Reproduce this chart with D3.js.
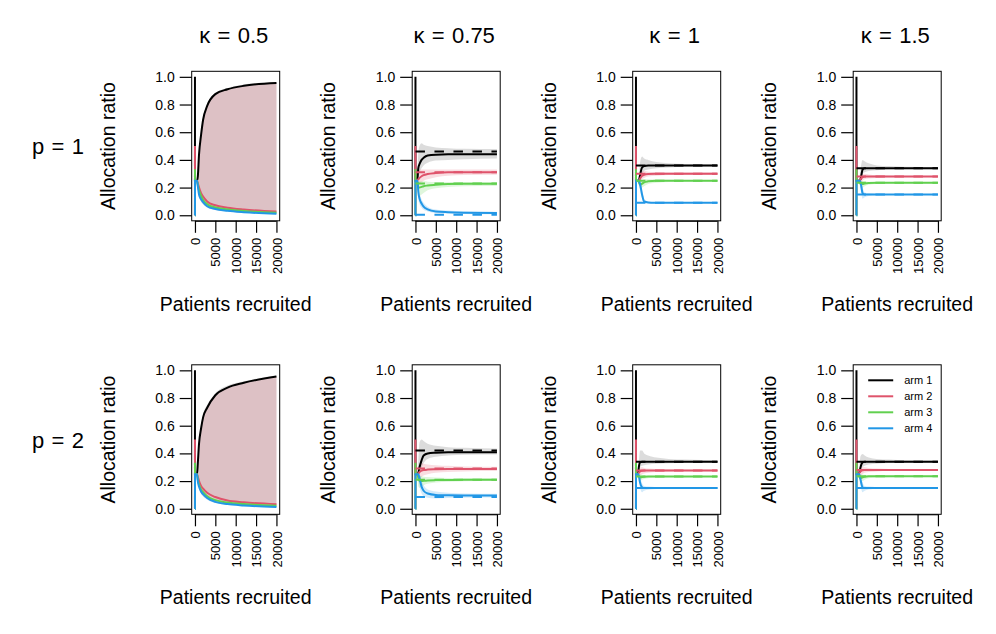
<!DOCTYPE html>
<html>
<head>
<meta charset="utf-8">
<script src="https://cdn.jsdelivr.net/npm/d3@7"></script>
<style>
  body { margin: 0; background: #fff; }
  text { font-family: "Liberation Sans", Arial, sans-serif; fill: #000; }
</style>
</head>
<body>
<div id="chart"></div>
<script>
var patients = [1, 2, 3, 4, 500, 700, 1000, 1500, 2000, 3000, 5000, 8000, 12000, 20000]
var band_patients = [500, 700, 1000, 1500, 2000, 3000, 5000, 8000, 12000, 20000]

var kappa_labels = ["0.5", "0.75", "1", "1.5"]
var p_labels = ["1", "2"]
var arm_names = ["arm 1", "arm 2", "arm 3", "arm 4"]
var arm_colors = ["#000000", "#DF536B", "#61D04F", "#2297E6"]
var band_colors = ["rgba(128,128,128,0.28)", "rgba(223,83,107,0.2)", "rgba(97,208,79,0.2)", "rgba(34,151,230,0.2)"]
var x_ticks = [0, 5000, 10000, 15000, 20000]
var y_ticks = [0, 0.2, 0.4, 0.6, 0.8, 1.0]

// p = 1, kappa = 0.5
var p1_k05_lines = [
  [1, .5, .333, .25, .25, .28, .44, .58, .69, .79, .875, .91, .935, .955],
  [0, .5, .333, .25, .25, .23, .20, .16, .135, .10, .072, .055, .042, .027],
  [0, 0, .333, .25, .25, .22, .18, .14, .11, .08, .056, .042, .031, .018],
  [0, 0, 0, .25, .25, .21, .15, .115, .095, .065, .045, .032, .022, .011]
]
var p1_k05_lo = [
  [.25, .2, .14, .1, .08, .06, .04, .03, .022, .014],
  [.25, .22, .18, .14, .115, .085, .06, .046, .035, .022],
  [.25, .2, .15, .11, .09, .065, .045, .034, .025, .015],
  [.25, .19, .13, .1, .08, .055, .038, .027, .018, .008]
]
var p1_k05_hi = [
  [.25, .33, .47, .61, .71, .8, .885, .92, .945, .963],
  [.25, .3, .45, .59, .7, .79, .878, .913, .938, .958],
  [.25, .23, .2, .16, .13, .095, .066, .05, .038, .025],
  [.25, .22, .17, .13, .105, .075, .052, .038, .027, .015]
]

// p = 1, kappa = 0.75
var p1_k075_lines = [
  [1, .5, .333, .25, .27, .34, .37, .40, .415, .432, .438, .44, .44, .44],
  [0, .5, .333, .25, .255, .26, .27, .282, .29, .298, .305, .31, .31, .31],
  [0, 0, .333, .25, .24, .2, .2, .205, .21, .215, .22, .225, .227, .227],
  [0, 0, 0, .25, .25, .17, .12, .085, .063, .042, .027, .022, .019, .017]
]
var p1_k075_lo = [
  [.25, .28, .31, .34, .36, .38, .395, .40, .405, .41],
  [.25, .23, .23, .24, .25, .26, .275, .285, .29, .292],
  [.24, .14, .14, .15, .16, .18, .195, .205, .21, .212],
  [.24, .12, .08, .055, .04, .028, .016, .012, .01, .008]
]
var p1_k075_hi = [
  [.27, .45, .5, .52, .51, .5, .49, .485, .48, .478],
  [.26, .31, .33, .33, .33, .33, .33, .33, .33, .33],
  [.25, .24, .245, .245, .245, .243, .24, .24, .24, .24],
  [.25, .22, .16, .115, .09, .062, .042, .034, .029, .025]
]
var p1_k075_target = [.46, .31, .23, .003]

// p = 1, kappa = 1
var p1_k1_lines = [
  [1, .5, .333, .25, .25, .25, .29, .345, .355, .36, .36, .36, .36, .36],
  [0, .5, .333, .25, .25, .25, .265, .285, .293, .298, .30, .30, .30, .30],
  [0, 0, .333, .25, .25, .24, .22, .228, .238, .245, .25, .25, .25, .25],
  [0, 0, 0, .25, .25, .25, .225, .15, .10, .093, .091, .09, .09, .09]
]
var p1_k1_lo = [
  [.25, .24, .26, .3, .32, .33, .34, .345, .35, .35],
  [.25, .24, .24, .26, .27, .28, .285, .29, .29, .29],
  [.25, .22, .19, .2, .21, .225, .235, .24, .242, .243],
  [.25, .24, .18, .12, .09, .085, .085, .086, .087, .088]
]
var p1_k1_hi = [
  [.25, .27, .38, .425, .41, .40, .385, .375, .37, .368],
  [.25, .26, .3, .32, .32, .315, .312, .31, .31, .31],
  [.25, .25, .25, .255, .26, .26, .258, .256, .255, .255],
  [.25, .25, .25, .18, .12, .1, .095, .093, .092, .092]
]
var p1_k1_target = [.36, .30, .25, .09]

// p = 1, kappa = 1.5
var p1_k15_lines = [
  [1, .5, .333, .25, .25, .25, .26, .33, .34, .34, .34, .34, .34, .34],
  [0, .5, .333, .25, .25, .25, .26, .275, .28, .28, .28, .28, .28, .28],
  [0, 0, .333, .25, .25, .25, .225, .225, .23, .233, .234, .234, .234, .234],
  [0, 0, 0, .25, .25, .25, .24, .16, .15, .15, .15, .15, .15, .15]
]
var p1_k15_lo = [
  [.25, .25, .25, .3, .31, .32, .325, .33, .332, .333],
  [.25, .25, .24, .25, .26, .265, .27, .272, .274, .275],
  [.25, .24, .2, .2, .21, .22, .225, .228, .229, .23],
  [.25, .25, .2, .12, .13, .14, .145, .147, .148, .148]
]
var p1_k15_hi = [
  [.25, .26, .33, .40, .39, .375, .36, .355, .35, .348],
  [.25, .25, .28, .3, .3, .295, .29, .288, .286, .285],
  [.25, .25, .25, .245, .245, .242, .24, .24, .238, .238],
  [.25, .25, .25, .2, .165, .16, .156, .154, .153, .152]
]
var p1_k15_target = [.34, .28, .234, .15]

// p = 2, kappa = 0.5
var p2_k05_lines = [
  [1, .5, .333, .25, .25, .33, .47, .58, .66, .73, .82, .875, .91, .955],
  [0, .5, .333, .25, .25, .23, .2, .165, .145, .115, .085, .06, .047, .033],
  [0, 0, .333, .25, .25, .21, .175, .14, .12, .09, .062, .045, .034, .022],
  [0, 0, 0, .25, .25, .2, .16, .125, .105, .078, .05, .034, .024, .013]
]
var p2_k05_lo = [
  [.25, .2, .15, .11, .09, .07, .045, .032, .024, .016],
  [.25, .22, .18, .145, .125, .1, .072, .052, .04, .028],
  [.25, .2, .16, .12, .1, .075, .052, .037, .028, .017],
  [.25, .19, .145, .11, .09, .066, .042, .028, .019, .009]
]
var p2_k05_hi = [
  [.25, .36, .5, .61, .69, .75, .835, .89, .922, .962],
  [.25, .34, .48, .59, .67, .74, .825, .88, .915, .957],
  [.25, .22, .19, .155, .135, .1, .07, .052, .04, .027],
  [.25, .21, .175, .14, .12, .09, .058, .04, .029, .017]
]

// p = 2, kappa = 0.75
var p2_k075_lines = [
  [1, .5, .333, .25, .25, .26, .30, .35, .385, .40, .405, .408, .408, .408],
  [0, .5, .333, .25, .25, .255, .265, .275, .28, .283, .285, .287, .288, .288],
  [0, 0, .333, .25, .25, .22, .2, .2, .202, .205, .207, .208, .209, .209],
  [0, 0, 0, .25, .25, .25, .22, .16, .13, .11, .1, .097, .096, .096]
]
var p2_k075_lo = [
  [.25, .22, .26, .3, .33, .36, .375, .385, .39, .392],
  [.25, .2, .21, .23, .24, .25, .26, .265, .27, .272],
  [.25, .16, .15, .16, .17, .18, .19, .195, .198, .2],
  [.25, .22, .16, .11, .09, .08, .075, .078, .08, .082]
]
var p2_k075_hi = [
  [.25, .35, .48, .5, .49, .47, .455, .445, .44, .435],
  [.25, .3, .33, .33, .325, .32, .315, .31, .305, .303],
  [.25, .25, .24, .235, .232, .23, .225, .222, .22, .22],
  [.25, .25, .25, .2, .17, .14, .125, .115, .11, .108]
]
var p2_k075_target = [.42, .29, .21, .085]

// p = 2, kappa = 1
var p2_k1_lines = [
  [1, .5, .333, .25, .25, .3, .335, .34, .34, .34, .34, .34, .34, .34],
  [0, .5, .333, .25, .25, .26, .27, .275, .277, .277, .277, .277, .277, .277],
  [0, 0, .333, .25, .25, .23, .225, .23, .232, .233, .233, .233, .233, .233],
  [0, 0, 0, .25, .25, .24, .19, .155, .15, .15, .15, .15, .15, .15]
]
var p2_k1_lo = [
  [.25, .26, .3, .31, .315, .32, .325, .328, .33, .332],
  [.25, .23, .24, .25, .255, .26, .265, .268, .27, .27],
  [.25, .2, .2, .21, .215, .22, .225, .227, .228, .229],
  [.25, .22, .15, .12, .13, .138, .142, .145, .146, .147]
]
var p2_k1_hi = [
  [.25, .33, .42, .42, .4, .385, .37, .36, .355, .35],
  [.25, .28, .3, .3, .295, .29, .287, .285, .284, .283],
  [.25, .25, .25, .245, .243, .24, .239, .238, .237, .237],
  [.25, .25, .23, .185, .165, .16, .156, .154, .153, .152]
]
var p2_k1_target = [.34, .277, .233, .15]

// p = 2, kappa = 1.5
var p2_k15_lines = [
  [1, .5, .333, .25, .25, .26, .3, .335, .34, .34, .34, .34, .34, .34],
  [0, .5, .333, .25, .25, .26, .27, .278, .28, .28, .28, .28, .28, .28],
  [0, 0, .333, .25, .25, .23, .22, .228, .232, .234, .235, .235, .235, .235],
  [0, 0, 0, .25, .25, .25, .21, .155, .15, .15, .15, .15, .15, .15]
]
var p2_k15_lo = [
  [.25, .25, .28, .3, .31, .32, .325, .33, .332, .333],
  [.25, .24, .24, .25, .26, .265, .27, .272, .274, .275],
  [.25, .21, .2, .2, .21, .22, .225, .228, .229, .23],
  [.25, .24, .17, .12, .13, .14, .145, .147, .148, .148]
]
var p2_k15_hi = [
  [.25, .3, .38, .395, .385, .37, .36, .355, .35, .348],
  [.25, .27, .29, .3, .3, .295, .29, .288, .286, .285],
  [.25, .25, .25, .245, .245, .242, .24, .24, .238, .238],
  [.25, .25, .24, .19, .165, .16, .156, .154, .153, .152]
]
var p2_k15_target = [.34, .28, .235, .15]

var panels = [
  { row: 0, col: 0, lines: p1_k05_lines, lo: p1_k05_lo, hi: p1_k05_hi, target: null },
  { row: 0, col: 1, lines: p1_k075_lines, lo: p1_k075_lo, hi: p1_k075_hi, target: p1_k075_target },
  { row: 0, col: 2, lines: p1_k1_lines, lo: p1_k1_lo, hi: p1_k1_hi, target: p1_k1_target },
  { row: 0, col: 3, lines: p1_k15_lines, lo: p1_k15_lo, hi: p1_k15_hi, target: p1_k15_target },
  { row: 1, col: 0, lines: p2_k05_lines, lo: p2_k05_lo, hi: p2_k05_hi, target: null },
  { row: 1, col: 1, lines: p2_k075_lines, lo: p2_k075_lo, hi: p2_k075_hi, target: p2_k075_target },
  { row: 1, col: 2, lines: p2_k1_lines, lo: p2_k1_lo, hi: p2_k1_hi, target: p2_k1_target },
  { row: 1, col: 3, lines: p2_k15_lines, lo: p2_k15_lo, hi: p2_k15_hi, target: p2_k15_target, legend: true }
]

var width = 996,
    height = 634,
    box_w = 88,
    box_h = 149.5,
    left0 = 191.7,
    top0 = 71.3,
    col_step = 220.5,
    row_step = 293.5

var svg = d3.select("#chart").append("svg")
    .attr("width", width)
    .attr("height", height)

svg.append("rect")
    .attr("width", width)
    .attr("height", height)
    .attr("fill", "#fff")

kappa_labels.forEach(function(k, i) {
  svg.append("text")
      .attr("x", left0 + i * col_step + box_w / 2 - 2)
      .attr("y", 43)
      .attr("text-anchor", "middle")
      .style("font-size", "22px")
      .text("\u03BA\u2004=\u2004" + k)
})

p_labels.forEach(function(p, i) {
  svg.append("text")
      .attr("x", 58)
      .attr("y", top0 + i * row_step + box_h / 2 + 8)
      .attr("text-anchor", "middle")
      .style("font-size", "22px")
      .text("p\u2004=\u2004" + p)
})

panels.forEach(draw_panel)

function draw_panel(panel, idx) {
  var x0 = left0 + panel.col * col_step,
      y0 = top0 + panel.row * row_step

  var x = d3.scaleLinear().domain([-800, 20800]).range([x0, x0 + box_w])
  var y = d3.scaleLinear().domain([-0.04, 1.04]).range([y0 + box_h, y0])

  var g = svg.append("g")

  var clip_id = "clip" + idx
  g.append("clipPath")
      .attr("id", clip_id)
    .append("rect")
      .attr("x", x0)
      .attr("y", y0)
      .attr("width", box_w)
      .attr("height", box_h)

  var plot = g.append("g").attr("clip-path", "url(#" + clip_id + ")")

  var area = d3.area()
      .x(function(d) { return x(d[0]) })
      .y0(function(d) { return y(d[1]) })
      .y1(function(d) { return y(d[2]) })
      .curve(d3.curveMonotoneX)

  var line = d3.line()
      .x(function(d) { return x(d[0]) })
      .y(function(d) { return y(d[1]) })
      .curve(d3.curveMonotoneX)

  panel.lo.forEach(function(lo, a) {
    var pts = band_patients.map(function(n, i) { return [n, lo[i], panel.hi[a][i]] })
    plot.append("path")
        .attr("d", area(pts))
        .attr("fill", band_colors[a])
  })

  panel.lines.forEach(function(vals, a) {
    var pts = patients.map(function(n, i) { return [n, vals[i]] })
    plot.append("path")
        .attr("d", line(pts))
        .attr("fill", "none")
        .attr("stroke", arm_colors[a])
        .attr("stroke-width", 2)
  })

  if (panel.target) {
    panel.target.forEach(function(t, a) {
      plot.append("line")
          .attr("x1", x(0))
          .attr("x2", x(20000))
          .attr("y1", y(t))
          .attr("y2", y(t))
          .attr("stroke", arm_colors[a])
          .attr("stroke-width", 2)
          .attr("stroke-dasharray", "9.5,9.5")
    })
  }

  g.append("rect")
      .attr("x", x0)
      .attr("y", y0)
      .attr("width", box_w)
      .attr("height", box_h)
      .attr("fill", "none")
      .attr("stroke", "#000")
      .attr("stroke-width", 1)

  var y_axis = g.append("g")
      .attr("transform", "translate(" + x0 + ",0)")
      .call(d3.axisLeft(y).tickValues(y_ticks).tickSize(12).tickSizeOuter(0).tickPadding(5)
        .tickFormat(d3.format(".1f")))
  y_axis.select(".domain").remove()
  y_axis.selectAll("text").style("font-size", "14px").style("font-family", "Liberation Sans, Arial, sans-serif")
  y_axis.selectAll("line").attr("stroke-width", 1.2)

  var x_axis = g.append("g")
      .attr("transform", "translate(0," + (y0 + box_h) + ")")
      .call(d3.axisBottom(x).tickValues(x_ticks).tickSize(12).tickSizeOuter(0).tickFormat(d3.format("d")))
  x_axis.select(".domain").attr("d", "M" + x(0) + ",0.5H" + x(20000))
  x_axis.selectAll("line").attr("stroke-width", 1.2)
  x_axis.selectAll("text")
      .style("font-size", "13px")
      .style("font-family", "Liberation Sans, Arial, sans-serif")
      .attr("text-anchor", "end")
      .attr("transform", "rotate(-90)")
      .attr("x", -17)
      .attr("y", 0)
      .attr("dy", "0.35em")

  g.append("text")
      .attr("transform", "translate(" + (x0 - 77) + "," + (y0 + box_h / 2) + ") rotate(-90)")
      .attr("text-anchor", "middle")
      .style("font-size", "19.5px")
      .text("Allocation ratio")

  g.append("text")
      .attr("x", x0 + box_w / 2)
      .attr("y", y0 + box_h + 90)
      .attr("text-anchor", "middle")
      .style("font-size", "19.5px")
      .text("Patients recruited")

  if (panel.legend) {
    var leg = g.append("g").attr("transform", "translate(" + x0 + "," + y0 + ")")
    arm_names.forEach(function(name, a) {
      leg.append("line")
          .attr("x1", 15).attr("x2", 40)
          .attr("y1", 15.5 + a * 16).attr("y2", 15.5 + a * 16)
          .attr("stroke", arm_colors[a])
          .attr("stroke-width", 2)
      leg.append("text")
          .attr("x", 51)
          .attr("y", 15.5 + a * 16)
          .attr("dy", "0.35em")
          .style("font-size", "11px")
          .text(name)
    })
  }
}
</script>
</body>
</html>
